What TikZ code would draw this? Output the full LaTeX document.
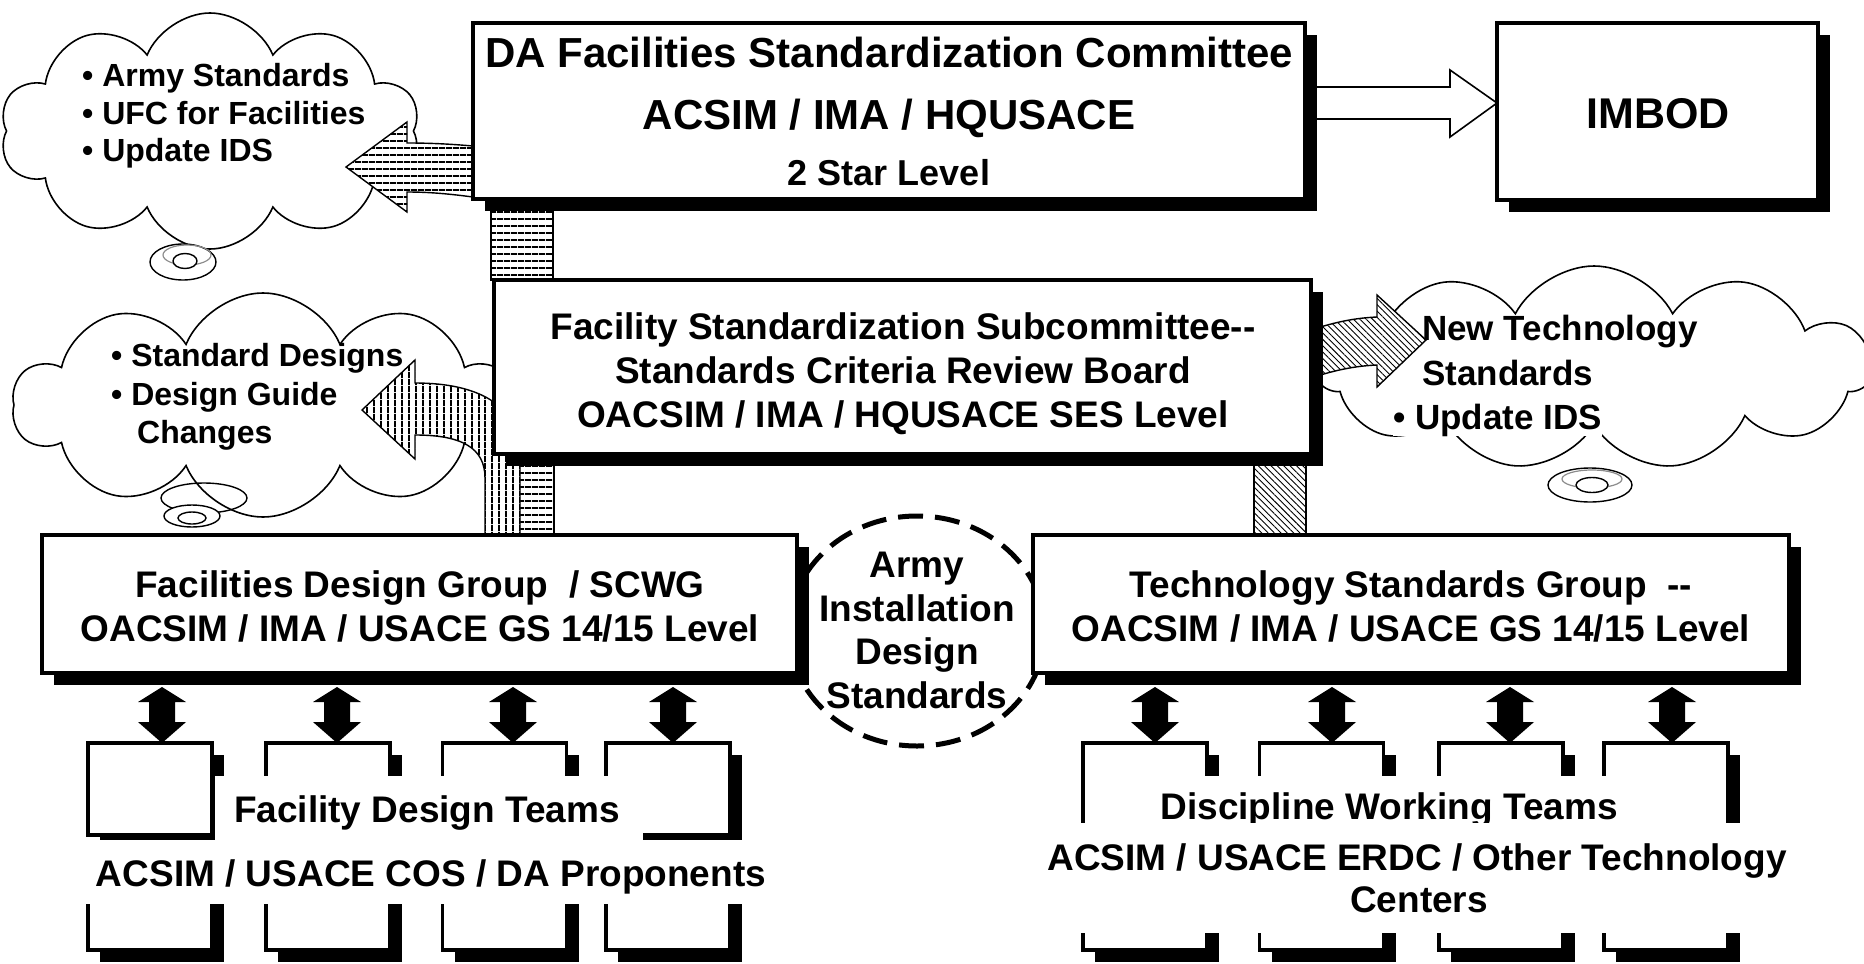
\documentclass[tikz,border=0pt]{standalone}
\usepackage{fontspec}
\setmainfont{Liberation Sans}
\usetikzlibrary{shapes.symbols,shapes.geometric,patterns.meta,shadows,calc}
\newcommand{\fz}[1]{\fontsize{#1pt}{#1pt}\selectfont\bfseries}
\newcommand{\dd}{\mbox{-}\mbox{-}}
\pgfdeclarelayer{bg}
\pgfsetlayers{bg,main}
\begin{document}
\begin{tikzpicture}[x=1pt,y=-1pt,
  box/.style={draw=black,line width=3.3pt,fill=white,inner sep=0pt,outer sep=0pt,
    general shadow={fill=black,shadow xshift=12pt,shadow yshift=-12pt}},
  lbl/.style={anchor=base,inner sep=0pt,font=\fz{37}},
  cl/.style={cloud,cloud puffs=10,cloud puff arc=135,cloud ignores aspect,draw=black,line width=1.6pt,fill=white,inner sep=0pt},
  ctext/.style={anchor=base west,inner sep=0pt,font=\fz{32}},
  bub/.style={draw=black,line width=1.4pt,fill=white},
  gbub/.style={draw=black!45,line width=1.2pt},
  hst/.style={draw=black,line width=1.4pt,preaction={fill=white},pattern={Lines[angle=0,distance=6.5pt,line width=1.8pt]}},
  vst/.style={draw=black,line width=1.4pt,preaction={fill=white},pattern={Lines[angle=90,distance=6.5pt,line width=1.8pt]}},
  dst/.style={draw=black,line width=1.4pt,preaction={fill=white},pattern={Lines[angle=-45,distance=4.5pt,line width=0.9pt]}},
  hollow/.style={draw=black,line width=1.6pt,fill=white},
  dbl/.style={fill=black},
  cover/.style={fill=white},
  team/.style={box,minimum width=124pt},
]
\useasboundingbox (0,0) rectangle (1864,964);

% ---------- main boxes
\node[box,minimum width=832pt,minimum height=176pt] (T) at (889,111) {};
\node[box,minimum width=321pt,minimum height=177pt] (I) at (1657.5,111.5) {};
\node[box,minimum width=817pt,minimum height=174pt] (M) at (902.5,367) {};
\node[box,minimum width=755pt,minimum height=138pt] (FDG) at (419.5,604) {};
\node[box,minimum width=756pt,minimum height=138pt] (TSG) at (1411,604) {};

% ---------- background: clouds, connectors, block arrows
\begin{pgfonlayer}{bg}
\node[cl,minimum width=420pt,minimum height=236pt] (C1) at (210,131) {};
\node[cl,minimum width=500pt,minimum height=224pt] (C2) at (263,405) {};
\node[cl,cloud puffs=11,cloud puff arc=125,minimum width=555pt,minimum height=204pt] (C3) at (1594,368) {};
% thought bubbles
\draw[bub] (183,262) ellipse [x radius=33pt,y radius=18pt];
\draw[gbub] (187,255) ellipse [x radius=24pt,y radius=10pt];
\draw[bub] (185,261) ellipse [x radius=12pt,y radius=7.5pt];
\draw[draw=black,line width=1.4pt] (204,498) ellipse [x radius=43pt,y radius=15pt];
\draw[bub] (192,516) ellipse [x radius=28pt,y radius=11pt];
\draw[bub] (192,518) ellipse [x radius=14pt,y radius=6pt];
\draw[bub] (1590,485) ellipse [x radius=42pt,y radius=17pt];
\draw[gbub] (1592,479) ellipse [x radius=30pt,y radius=9pt];
\draw[bub] (1592,485) ellipse [x radius=16pt,y radius=7.5pt];
% striped connectors
\draw[hst] ($(T.south west)+(18,0)$) rectangle ($(M.north west)+(59,0)$);
\draw[hst] ($(M.south west)+(-3,0)$) rectangle ($(FDG.north west)+(512,0)$);
\draw[dst] ($(M.south east)+(-57,0)$) rectangle ($(TSG.north west)+(273,0)$);
% curved arrow FDG -> C2
\draw[vst] (485,535) -- (485,478) .. controls (485,448) and (462,435) .. (415,435)
  -- (415,459) -- (362,410) -- (415,360) -- (415,383)
  .. controls (478,383) and (520,405) .. (520,455) -- (520,535) -- cycle;
% arrow T -> C1
\draw[hst] (473,146) .. controls (450,144) and (430,143) .. (407,143) -- (407,122)
  -- (346,167) -- (407,212) -- (407,192) .. controls (430,192) and (450,194) .. (473,197) -- cycle;
% arrow M -> C3
\draw[dst] (1311,330) .. controls (1335,322) and (1355,318) .. (1377,317) -- (1377,295)
  -- (1426,340) -- (1377,387) -- (1377,365) .. controls (1355,366) and (1335,370) .. (1311,378) -- cycle;
% hollow arrow T -> IMBOD
\draw[hollow] ($(T.east)+(12,-24)$) -- ($(I.west)+(-47,-24.5)$) -- ($(I.west)+(-47,-41.5)$)
  -- ($(I.west)+(0,-8.5)$) -- ($(I.west)+(-47,25.5)$) -- ($(I.west)+(-47,7.5)$) -- ($(T.east)+(12,8)$);
% dashed ellipse
\node[ellipse,draw=black,line width=5pt,dash pattern=on 25pt off 12pt,minimum width=256pt,minimum height=230pt,inner sep=0pt] (AIDS) at (917,631) {};
\end{pgfonlayer}

% ---------- box texts
\node[lbl,font=\fz{42}] (Tt1) at (889,67) {DA Facilities Standardization Committee};
\node[lbl,font=\fz{42}] (Tt2) at (889,129) {ACSIM / IMA / HQUSACE};
\node[lbl,font=\fz{36}] (Tt3) at (889,185) {2 Star Level};
\node[lbl,font=\fz{43}] (It) at (1658,128) {IMBOD};
\node[lbl] (Mt1) at (903,339) {Facility Standardization Subcommittee\dd};
\node[lbl] (Mt2) at (903,383) {Standards Criteria Review Board};
\node[lbl] (Mt3) at (903,427) {OACSIM / IMA / HQUSACE SES Level};
\node[lbl] (Ft1) at (420,597) {Facilities Design Group\ \ / SCWG};
\node[lbl] (Ft2) at (420,641) {OACSIM / IMA / USACE GS 14/15 Level};
\node[lbl] (St1) at (1411,597) {Technology Standards Group\ \ \dd};
\node[lbl] (St2) at (1411,641) {OACSIM / IMA / USACE GS 14/15 Level};

% ---------- cloud texts
\node[ctext] (c1a) at (82,86) {• Army Standards};
\node[ctext] (c1b) at (82,124) {• UFC for Facilities};
\node[ctext] (c1c) at (82,161) {• Update IDS};
\node[ctext] (c2a) at (111,366) {• Standard Designs};
\node[ctext] (c2b) at (111,405) {• Design Guide};
\node[ctext] (c2c) at (137,443) {Changes};
\node[ctext,font=\fz{35}] (c3a) at (1422,340) {New Technology};
\node[ctext,font=\fz{35}] (c3b) at (1422,385) {Standards};
\node[ctext,font=\fz{35},fill=white] (c3c) at (1393,429) {• Update IDS};

% ---------- ellipse text
\node[lbl] (A1) at (917,577) {Army};
\node[lbl] (A2) at (917,621) {Installation};
\node[lbl] (A3) at (917,664) {Design};
\node[lbl] (A4) at (917,708) {Standards};

% ---------- double arrows
\foreach \x in {162,337,513,673,1155,1332,1510,1672}{
  \fill[dbl] (\x,687) -- ++(24,15) -- ++(-11,0) -- ++(0,20) -- ++(11,0) -- ++(-24,21)
    -- ++(-24,-21) -- ++(11,0) -- ++(0,-20) -- ++(-11,0) -- cycle;
}

% ---------- team boxes
\node[team,minimum height=92pt] (L1) at (150,789) {};
\node[team,minimum height=92pt] (L2) at (328,789) {};
\node[team,minimum height=92pt] (L3) at (504.5,789) {};
\node[team,minimum height=92pt] (L4) at (668,789) {};
\node[team,minimum height=105pt] (LB1) at (150,897.5) {};
\node[team,minimum height=105pt] (LB2) at (328,897.5) {};
\node[team,minimum height=105pt] (LB3) at (504.5,897.5) {};
\node[team,minimum height=105pt] (LB4) at (668,897.5) {};
\node[team,minimum height=207pt] (R1) at (1145,846.5) {};
\node[team,minimum height=207pt] (R2) at (1321.5,846.5) {};
\node[team,minimum height=207pt] (R3) at (1501,846.5) {};
\node[team,minimum height=207pt] (R4) at (1666,846.5) {};

% covers and team texts
\fill[cover] (215,776) rectangle (643,840);
\fill[cover] (78,840) rectangle (770,904);
\fill[cover] (1085,776) rectangle (1725,823);
\node[lbl] (FDT) at (427,822) {Facility Design Teams};
\node[lbl] (FDP) at (431,886) {ACSIM / USACE COS / DA Proponents};
\node[lbl] (DWT) at (1389,819) {Discipline Working Teams};
\fill[cover] (1040,823) rectangle (1800,933);
\node[lbl] (DWP1) at (1417,870) {ACSIM / USACE ERDC / Other Technology};
\node[lbl] (DWP2) at (1419,912) {Centers};
\end{tikzpicture}
\end{document}
